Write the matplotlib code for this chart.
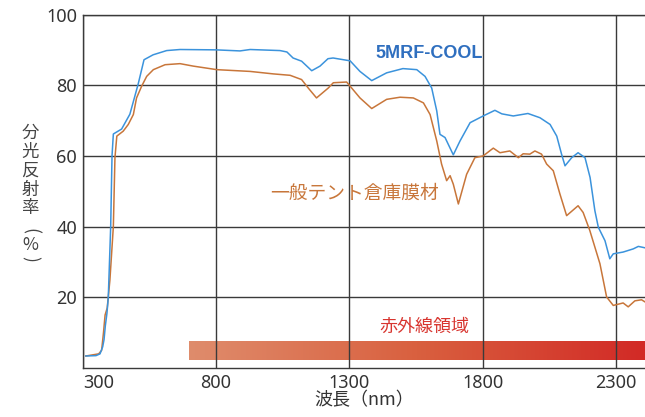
import numpy as np
import matplotlib
matplotlib.use("Agg")
from matplotlib import pyplot as plt
from matplotlib.colors import LinearSegmentedColormap

# wavelength (nm) / reflectance (%)
cool_x = [312, 350, 365, 375, 380, 385, 391, 396, 405, 410, 415, 446, 477, 508, 530,
          564, 615, 665, 800, 890, 928, 1040, 1066, 1089, 1121, 1159, 1190, 1220, 1239,
          1303, 1340, 1384, 1440, 1501, 1553, 1584, 1609, 1628, 1640, 1659, 1690, 1715,
          1753, 1802, 1846, 1872, 1915, 1970, 2015, 2053, 2078, 2096, 2109, 2134, 2158,
          2184, 2203, 2221, 2234, 2259, 2277, 2290, 2327, 2365, 2384, 2409]
cool_y = [3.4, 3.5, 4, 6, 8, 12, 15.5, 20, 40, 60, 66.2, 67.6, 71.8, 80.3, 87.2,
          88.6, 89.8, 90.1, 90.0, 89.7, 90.1, 89.8, 89.4, 87.7, 86.8, 84.1, 85.4, 87.5, 87.7,
          86.9, 83.9, 81.3, 83.5, 84.7, 84.4, 82.5, 79.2, 72.7, 66.1, 65.2, 60.3, 64.2,
          69.4, 71.3, 72.9, 71.9, 71.3, 72.0, 70.8, 68.9, 65.6, 60.5, 57.2, 59.5, 60.9,
          59.5, 53.9, 44.5, 39.8, 36.0, 30.9, 32.3, 32.8, 33.7, 34.4, 34.0]

tent_x = [312, 360, 371, 378, 384, 392, 402, 415, 421, 428, 452, 471, 490, 502, 521,
          540, 565, 609, 665, 715, 803, 928, 1015, 1078, 1121, 1146, 1177, 1221, 1240,
          1290, 1340, 1384, 1440, 1490, 1540, 1578, 1603, 1628, 1646, 1665, 1678, 1690,
          1709, 1740, 1771, 1802, 1840, 1865, 1902, 1934, 1952, 1977, 1996, 2021, 2040,
          2065, 2090, 2115, 2158, 2177, 2202, 2240, 2265, 2290, 2327, 2346, 2371, 2396, 2409]
tent_y = [3.4, 4.0, 5.0, 10, 15, 17, 24.8, 40, 59.5, 65.6, 67.0, 68.9, 71.7, 76.4, 79.7,
          82.5, 84.4, 85.8, 86.1, 85.4, 84.4, 83.9, 83.2, 82.8, 81.6, 79.2, 76.4, 79.2, 80.7,
          80.9, 76.4, 73.4, 76.0, 76.6, 76.4, 75.0, 71.7, 64.2, 57.7, 53.0, 54.4, 52.0,
          46.4, 54.8, 59.5, 60.0, 62.2, 60.9, 61.4, 59.5, 60.6, 60.5, 61.4, 60.5, 57.7,
          55.8, 49.2, 43.1, 45.9, 44.0, 38.9, 29.5, 20.1, 17.7, 18.4, 17.3, 19.0, 19.3, 18.7]

x_ticks = [300, 800, 1300, 1800, 2300]
y_ticks = [20, 40, 60, 80, 100]
ir_band = (700, 2409, 2.25, 7.4)  # infrared region bar

jp = ["Noto Sans CJK JP", "DejaVu Sans"]
txt = "#333333"

fig = plt.figure(figsize=(6.45, 4.17), dpi=100)
ax = fig.add_axes([0.1282, 0.1175, 0.8718, 0.8477])
ax.set_xlim(300, 2409)
ax.set_ylim(0, 100)

ax.set_xticks(x_ticks)
ax.set_yticks(y_ticks)
ax.set_xticklabels([str(v) for v in x_ticks])
ax.set_yticklabels([str(v) for v in y_ticks])
ax.tick_params(length=0, labelsize=13, colors=txt, pad=4)
for lab in ax.get_xticklabels() + ax.get_yticklabels():
    lab.set_family(["Noto Sans", "DejaVu Sans"])
ax.get_xticklabels()[0].set_horizontalalignment("left")

ax.grid(True, color="#3a3a3a", linewidth=1.0, zorder=1)
ax.set_axisbelow(True)
ax.spines["right"].set_visible(False)
for s in ["left", "bottom", "top"]:
    ax.spines[s].set_color("#3a3a3a")
    ax.spines[s].set_linewidth(1.0)

# gradient bar for the infrared region
cmap = LinearSegmentedColormap.from_list("ir", ["#df8c6c", "#d9603f", "#d22a26"])
grad = np.linspace(0, 1, 256).reshape(1, -1)
ax.imshow(grad, extent=ir_band, aspect="auto", cmap=cmap, zorder=0.5)

ax.plot(tent_x, tent_y, color="#c8763a", linewidth=1.1, zorder=3)
ax.plot(cool_x, cool_y, color="#3b93dc", linewidth=1.1, zorder=4)

ax.text(1599, 89, "5MRF-COOL", color="#2f6fbf", fontsize=13, fontweight="bold",
        family=["Liberation Sans", "DejaVu Sans"], ha="center", va="center")
ax.text(1321, 49.3, "一般テント倉庫膜材", color="#c8763a", fontsize=13.5,
        family=jp, ha="center", va="center")
ax.text(1580, 11.6, "赤外線領域", color="#d8352f", fontsize=13,
        family=jp, ha="center", va="center")

ax.set_xlabel("波長（nm）", fontsize=13, color=txt, family=jp, labelpad=0)

# vertical y label, one upright character per row
ylab = ["分", "光", "反", "射", "率", "(", "%", ")"]
ypos = [133, 152, 171, 190, 208, 231, 245, 259]
yrot = [0, 0, 0, 0, 0, -90, 0, -90]
for ch, py, rot in zip(ylab, ypos, yrot):
    fig.text(30 / 645, 1 - py / 417, ch, fontsize=12.5, color="#444444",
             family=jp, ha="center", va="center", rotation=rot)

fig.savefig("out.png", dpi=100)
